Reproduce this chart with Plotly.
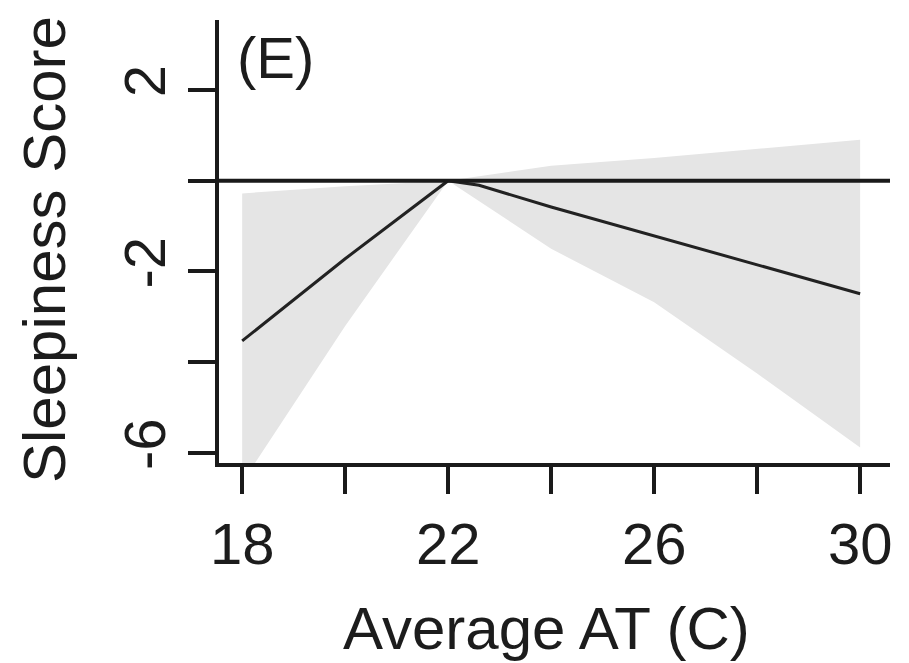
import plotly.graph_objects as go

# Data
line_x = [18, 20, 22, 22.6, 24, 26, 28, 30]
line_y = [-3.53, -1.72, 0.0, -0.1, -0.58, -1.22, -1.86, -2.49]

band_x = [18, 20, 22, 24, 26, 28, 30]
band_upper = [-0.28, -0.12, 0.0, 0.33, 0.5, 0.7, 0.9]
band_lower = [-6.65, -3.2, 0.0, -1.5, -2.68, -4.25, -5.88]

x_tickvals = [18, 20, 22, 24, 26, 28, 30]
x_ticktext = ["18", "", "22", "", "26", "", "30"]
y_tickvals = [2, 0, -2, -4, -6]
y_ticktext = ["2", "", "-2", "", "-6"]

panel_label = "(E)"
x_title = "Average AT (C)"
y_title = "Sleepiness Score"

FONT = "Liberation Sans, Arial, sans-serif"
INK = "#1c1c1c"

fig = go.Figure()
fig.add_trace(go.Scatter(
    x=band_x + band_x[::-1],
    y=band_upper + band_lower[::-1],
    fill="toself", fillcolor="#e5e5e5",
    line=dict(width=0), mode="lines", hoverinfo="skip", showlegend=False,
))
fig.add_trace(go.Scatter(
    x=line_x, y=line_y, mode="lines",
    line=dict(color="#222222", width=3), showlegend=False,
))
fig.add_shape(type="line", xref="paper", x0=0, x1=1, yref="y", y0=0, y1=0,
              line=dict(color="#1a1a1a", width=4))

L, R, T, B = 219, 19, 20, 200
W, H = 909, 663
pw, ph = W - L - R, H - T - B

fig.update_layout(
    width=W, height=H,
    margin=dict(l=L, r=R, t=T, b=B),
    paper_bgcolor="white", plot_bgcolor="white",
    font=dict(family=FONT, size=58, color=INK),
    xaxis=dict(range=[17.55, 30.58], tickvals=x_tickvals, ticktext=x_ticktext,
               showline=True, linecolor="#1a1a1a", linewidth=4,
               ticks="outside", ticklen=27, tickwidth=4, tickcolor="#1a1a1a",
               showgrid=False, zeroline=False, tickfont=dict(size=58, color=INK)),
    yaxis=dict(range=[-6.22, 3.54], tickvals=y_tickvals, ticktext=y_ticktext,
               showline=True, linecolor="#1a1a1a", linewidth=4,
               ticks="outside", ticklen=27, tickwidth=4, tickcolor="#1a1a1a",
               tickangle=-90,
               showgrid=False, zeroline=False, tickfont=dict(size=58, color=INK)),
)

def px_x(p):
    return (p - L) / pw

def px_y(p):
    return (H - B - p) / ph

fig.add_annotation(text=x_title, xref="paper", yref="paper",
                   x=px_x(546), y=px_y(628), xanchor="center", yanchor="middle",
                   showarrow=False, font=dict(size=60, color=INK, family=FONT))
fig.add_annotation(text=y_title, xref="paper", yref="paper",
                   x=px_x(44), y=px_y(250), xanchor="center", yanchor="middle",
                   textangle=-90, showarrow=False,
                   font=dict(size=60, color=INK, family=FONT))
fig.add_annotation(text=panel_label, xref="paper", yref="paper",
                   x=px_x(235), y=px_y(58), xanchor="left", yanchor="middle",
                   showarrow=False, font=dict(size=58, color=INK, family=FONT))

fig.write_html("out.html")
